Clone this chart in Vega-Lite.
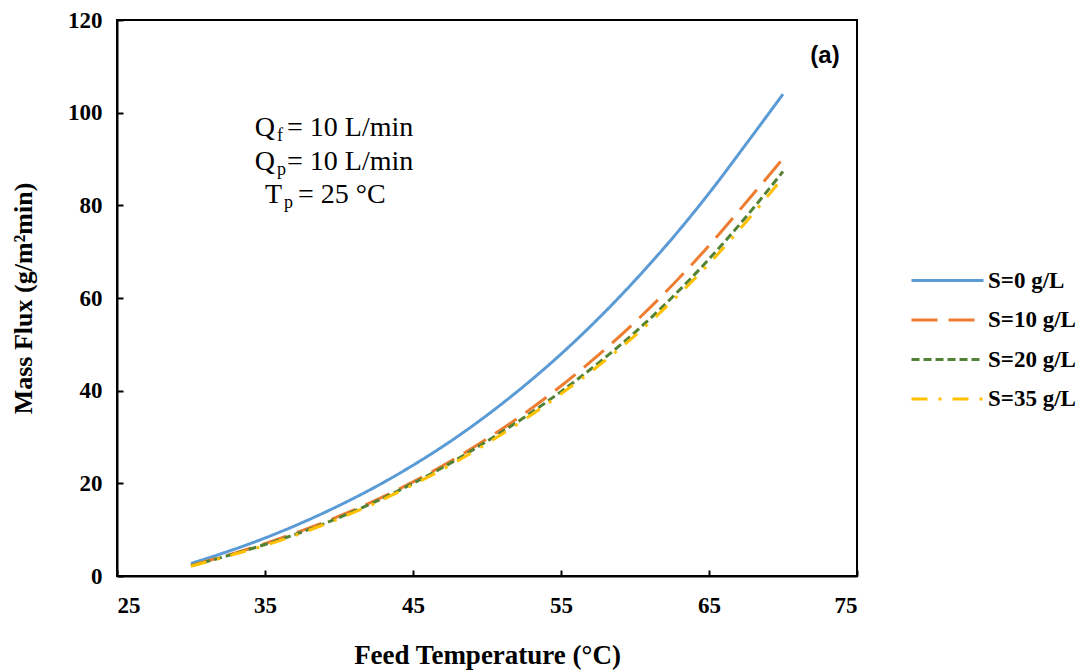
{
  "$schema": "https://vega.github.io/schema/vega-lite/v6.json",
  "width": 740,
  "height": 556,
  "autosize": {"type": "none"},
  "padding": {"left": 117, "top": 20, "right": 227, "bottom": 94},
  "background": "white",
  "config": {
    "view": {"stroke": "black", "strokeWidth": 2},
    "axis": {
      "domainColor": "black", "domainWidth": 2, "tickColor": "black", "tickWidth": 2,
      "tickSize": -6, "grid": false,
      "labelFont": "Liberation Serif", "labelFontWeight": "bold", "labelFontSize": 23, "labelColor": "black",
      "titleFont": "Liberation Serif", "titleFontWeight": "bold", "titleColor": "black"
    }
  },
  "data": {"values": [
    {"T": 30, "flux": 2.7, "S": "S=0 g/L"}, {"T": 32.5, "flux": 5.3, "S": "S=0 g/L"}, {"T": 35, "flux": 8.2, "S": "S=0 g/L"}, {"T": 37.5, "flux": 11.5, "S": "S=0 g/L"}, {"T": 40, "flux": 15.2, "S": "S=0 g/L"}, {"T": 42.5, "flux": 19.3, "S": "S=0 g/L"}, {"T": 45, "flux": 23.9, "S": "S=0 g/L"}, {"T": 47.5, "flux": 29.0, "S": "S=0 g/L"}, {"T": 50, "flux": 34.7, "S": "S=0 g/L"}, {"T": 52.5, "flux": 41.0, "S": "S=0 g/L"}, {"T": 55, "flux": 47.9, "S": "S=0 g/L"}, {"T": 57.5, "flux": 55.5, "S": "S=0 g/L"}, {"T": 60, "flux": 63.8, "S": "S=0 g/L"}, {"T": 62.5, "flux": 72.8, "S": "S=0 g/L"}, {"T": 65, "flux": 82.6, "S": "S=0 g/L"}, {"T": 67.5, "flux": 93.2, "S": "S=0 g/L"}, {"T": 70, "flux": 104.0, "S": "S=0 g/L"},
    {"T": 30, "flux": 2.3, "S": "S=10 g/L"}, {"T": 32.5, "flux": 4.5, "S": "S=10 g/L"}, {"T": 35, "flux": 7.0, "S": "S=10 g/L"}, {"T": 37.5, "flux": 9.8, "S": "S=10 g/L"}, {"T": 40, "flux": 12.9, "S": "S=10 g/L"}, {"T": 42.5, "flux": 16.4, "S": "S=10 g/L"}, {"T": 45, "flux": 20.3, "S": "S=10 g/L"}, {"T": 47.5, "flux": 24.7, "S": "S=10 g/L"}, {"T": 50, "flux": 29.6, "S": "S=10 g/L"}, {"T": 52.5, "flux": 35.0, "S": "S=10 g/L"}, {"T": 55, "flux": 41.0, "S": "S=10 g/L"}, {"T": 57.5, "flux": 47.6, "S": "S=10 g/L"}, {"T": 60, "flux": 54.8, "S": "S=10 g/L"}, {"T": 62.5, "flux": 62.7, "S": "S=10 g/L"}, {"T": 65, "flux": 71.3, "S": "S=10 g/L"}, {"T": 67.5, "flux": 80.6, "S": "S=10 g/L"}, {"T": 70, "flux": 90.1, "S": "S=10 g/L"},
    {"T": 30, "flux": 2.2, "S": "S=20 g/L"}, {"T": 32.5, "flux": 4.4, "S": "S=20 g/L"}, {"T": 35, "flux": 6.8, "S": "S=20 g/L"}, {"T": 37.5, "flux": 9.5, "S": "S=20 g/L"}, {"T": 40, "flux": 12.6, "S": "S=20 g/L"}, {"T": 42.5, "flux": 16.1, "S": "S=20 g/L"}, {"T": 45, "flux": 20.0, "S": "S=20 g/L"}, {"T": 47.5, "flux": 24.3, "S": "S=20 g/L"}, {"T": 50, "flux": 29.1, "S": "S=20 g/L"}, {"T": 52.5, "flux": 34.2, "S": "S=20 g/L"}, {"T": 55, "flux": 39.8, "S": "S=20 g/L"}, {"T": 57.5, "flux": 45.9, "S": "S=20 g/L"}, {"T": 60, "flux": 52.6, "S": "S=20 g/L"}, {"T": 62.5, "flux": 60.1, "S": "S=20 g/L"}, {"T": 65, "flux": 68.4, "S": "S=20 g/L"}, {"T": 67.5, "flux": 77.5, "S": "S=20 g/L"}, {"T": 70, "flux": 87.3, "S": "S=20 g/L"},
    {"T": 30, "flux": 2.1, "S": "S=35 g/L"}, {"T": 32.5, "flux": 4.3, "S": "S=35 g/L"}, {"T": 35, "flux": 6.6, "S": "S=35 g/L"}, {"T": 37.5, "flux": 9.3, "S": "S=35 g/L"}, {"T": 40, "flux": 12.4, "S": "S=35 g/L"}, {"T": 42.5, "flux": 15.8, "S": "S=35 g/L"}, {"T": 45, "flux": 19.7, "S": "S=35 g/L"}, {"T": 47.5, "flux": 23.9, "S": "S=35 g/L"}, {"T": 50, "flux": 28.6, "S": "S=35 g/L"}, {"T": 52.5, "flux": 33.7, "S": "S=35 g/L"}, {"T": 55, "flux": 39.3, "S": "S=35 g/L"}, {"T": 57.5, "flux": 45.3, "S": "S=35 g/L"}, {"T": 60, "flux": 51.9, "S": "S=35 g/L"}, {"T": 62.5, "flux": 59.3, "S": "S=35 g/L"}, {"T": 65, "flux": 67.4, "S": "S=35 g/L"}, {"T": 67.5, "flux": 76.4, "S": "S=35 g/L"}, {"T": 70, "flux": 86.0, "S": "S=35 g/L"}
  ]},
  "layer": [
    {
      "mark": {"type": "line", "strokeWidth": 3, "interpolate": "monotone"},
      "encoding": {
        "x": {"field": "T", "type": "quantitative", "scale": {"domain": [25, 75], "nice": false},
          "axis": {"values": [25, 35, 45, 55, 65, 75], "title": "Feed Temperature  (°C)", "titleFontSize": 27, "titlePadding": 25, "labelPadding": 24}},
        "y": {"field": "flux", "type": "quantitative", "scale": {"domain": [0, 120], "nice": false},
          "axis": {"values": [0, 20, 40, 60, 80, 100, 120], "title": "Mass Flux (g/m²min)", "titleFontSize": 26, "titlePadding": 31, "labelPadding": 21}},
        "color": {"field": "S", "type": "nominal",
          "scale": {"domain": ["S=0 g/L", "S=10 g/L", "S=20 g/L", "S=35 g/L"], "range": ["#5B9BD5", "#ED7D31", "#548235", "#FFC000"]},
          "legend": {"title": null, "orient": "none", "legendX": 793, "legendY": 239, "symbolType": "M-1,0H2.6", "symbolSize": 1600, "symbolStrokeWidth": 3, "symbolFillColor": "transparent", "rowPadding": 5.5, "labelOffset": 35,
            "labelFont": "Liberation Serif", "labelFontWeight": "bold", "labelFontSize": 23, "labelColor": "black"}},
        "strokeDash": {"field": "S", "type": "nominal",
          "scale": {"domain": ["S=0 g/L", "S=10 g/L", "S=20 g/L", "S=35 g/L"], "range": [[1, 0], [26, 11], [8, 4], [16, 11, 3, 11]]},
          "legend": null}
      }
    },
    {"data": {"values": [{}]}, "mark": {"type": "text", "font": "Liberation Serif", "fontSize": 28, "align": "right", "baseline": "alphabetic"},
     "encoding": {"x": {"datum": 35.68}, "y": {"datum": 94.97}, "text": {"value": "Q"}}},
    {"data": {"values": [{}]}, "mark": {"type": "text", "font": "Liberation Serif", "fontSize": 18, "align": "left", "baseline": "alphabetic", "dx": 2, "dy": 5},
     "encoding": {"x": {"datum": 35.68}, "y": {"datum": 94.97}, "text": {"value": "f"}}},
    {"data": {"values": [{}]}, "mark": {"type": "text", "font": "Liberation Serif", "fontSize": 28, "align": "left", "baseline": "alphabetic"},
     "encoding": {"x": {"datum": 36.49}, "y": {"datum": 94.97}, "text": {"value": "= 10 L/min"}}},
    {"data": {"values": [{}]}, "mark": {"type": "text", "font": "Liberation Serif", "fontSize": 28, "align": "right", "baseline": "alphabetic"},
     "encoding": {"x": {"datum": 35.68}, "y": {"datum": 87.63}, "text": {"value": "Q"}}},
    {"data": {"values": [{}]}, "mark": {"type": "text", "font": "Liberation Serif", "fontSize": 18, "align": "left", "baseline": "alphabetic", "dx": 2, "dy": 5},
     "encoding": {"x": {"datum": 35.68}, "y": {"datum": 87.63}, "text": {"value": "p"}}},
    {"data": {"values": [{}]}, "mark": {"type": "text", "font": "Liberation Serif", "fontSize": 28, "align": "left", "baseline": "alphabetic"},
     "encoding": {"x": {"datum": 36.49}, "y": {"datum": 87.63}, "text": {"value": "= 10 L/min"}}},
    {"data": {"values": [{}]}, "mark": {"type": "text", "font": "Liberation Serif", "fontSize": 28, "align": "right", "baseline": "alphabetic"},
     "encoding": {"x": {"datum": 36.15}, "y": {"datum": 80.5}, "text": {"value": "T"}}},
    {"data": {"values": [{}]}, "mark": {"type": "text", "font": "Liberation Serif", "fontSize": 18, "align": "left", "baseline": "alphabetic", "dx": 2, "dy": 5},
     "encoding": {"x": {"datum": 36.15}, "y": {"datum": 80.5}, "text": {"value": "p"}}},
    {"data": {"values": [{}]}, "mark": {"type": "text", "font": "Liberation Serif", "fontSize": 28, "align": "left", "baseline": "alphabetic"},
     "encoding": {"x": {"datum": 37.23}, "y": {"datum": 80.5}, "text": {"value": "= 25 °C"}}},
    {"data": {"values": [{}]}, "mark": {"type": "text", "font": "Liberation Sans", "fontWeight": "bold", "fontSize": 24, "align": "center", "baseline": "alphabetic"},
     "encoding": {"x": {"datum": 72.84}, "y": {"datum": 110.7}, "text": {"value": "(a)"}}}
  ]
}
